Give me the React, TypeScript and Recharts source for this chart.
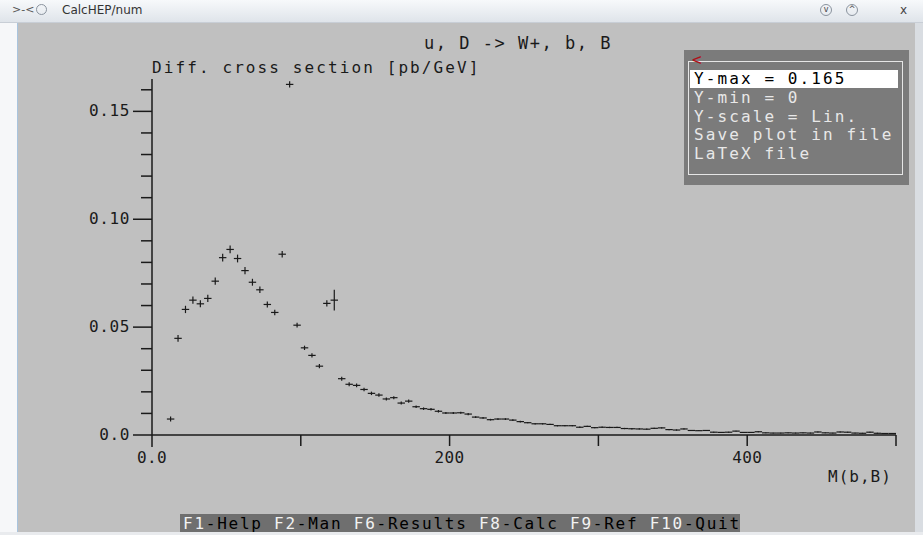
import React from 'react';
import { ScatterChart, Scatter, XAxis, YAxis, ErrorBar } from 'recharts';

// bin centres of M(b,B) [GeV], 5 GeV bins
const massBins = [
  12.5, 17.5, 22.5, 27.5, 32.5, 37.5, 42.5, 47.5, 52.5, 57.5,
  62.5, 67.5, 72.5, 77.5, 82.5, 87.5, 92.5, 97.5, 102.5, 107.5,
  112.5, 117.5, 122.5, 127.5, 132.5, 137.5, 142.5, 147.5, 152.5, 157.5,
  162.5, 167.5, 172.5, 177.5, 182.5, 187.5, 192.5, 197.5, 202.5, 207.5,
  212.5, 217.5, 222.5, 227.5, 232.5, 237.5, 242.5, 247.5, 252.5, 257.5,
  262.5, 267.5, 272.5, 277.5, 282.5, 287.5, 292.5, 297.5, 302.5, 307.5,
  312.5, 317.5, 322.5, 327.5, 332.5, 337.5, 342.5, 347.5, 352.5, 357.5,
  362.5, 367.5, 372.5, 377.5, 382.5, 387.5, 392.5, 397.5, 402.5, 407.5,
  412.5, 417.5, 422.5, 427.5, 432.5, 437.5, 442.5, 447.5, 452.5, 457.5,
  462.5, 467.5, 472.5, 477.5, 482.5, 487.5, 492.5, 497.5,
];

// dsigma/dM [pb/GeV]
const crossSection = [
  0.0074, 0.0448, 0.0582, 0.0625, 0.0608, 0.0633, 0.0713, 0.0822, 0.0860, 0.0818,
  0.0762, 0.0708, 0.0673, 0.0605, 0.0568, 0.0838, 0.1625, 0.0509, 0.0404, 0.0369,
  0.0319, 0.0610, 0.0625, 0.0261, 0.0235, 0.0230, 0.0211, 0.0193, 0.0185, 0.0167,
  0.0173, 0.0148, 0.0157, 0.0131, 0.0122, 0.0119, 0.0110, 0.0102, 0.0102, 0.0103,
  0.0097, 0.0083, 0.0079, 0.0071, 0.0074, 0.0074, 0.0069, 0.0062, 0.0057, 0.0052,
  0.0052, 0.0049, 0.0043, 0.0043, 0.0043, 0.0036, 0.0040, 0.0034, 0.0036, 0.0035,
  0.0035, 0.0030, 0.0029, 0.0028, 0.0027, 0.0031, 0.0033, 0.0025, 0.0023, 0.0028,
  0.0021, 0.0020, 0.0021, 0.0013, 0.0012, 0.0013, 0.0018, 0.0012, 0.0012, 0.0015,
  0.0010, 0.0009, 0.0009, 0.0010, 0.0009, 0.0010, 0.0009, 0.0014, 0.0010, 0.0009,
  0.0014, 0.0013, 0.0009, 0.0008, 0.0013, 0.0008, 0.0007, 0.0007,
];

// statistical error of each bin
const crossSectionErr = [
  0.0012, 0.0016, 0.0017, 0.0017, 0.0016, 0.0017, 0.0017, 0.0018, 0.0018, 0.0018,
  0.0017, 0.0016, 0.0015, 0.0014, 0.0013, 0.0015, 0.0014, 0.0011, 0.0010, 0.0010,
  0.0010, 0.0014, 0.0048, 0.0009, 0.0009, 0.0009, 0.0008, 0.0008, 0.0008, 0.0007,
  0.0007, 0.0007, 0.0007, 0.0006, 0.0006, 0.0006, 0.0006, 0.0005, 0.0005, 0.0005,
  0.0005, 0.0004, 0.0004, 0.0004, 0.0004, 0.0004, 0.0004, 0.0004, 0.0003, 0.0003,
  0.0003, 0.0003, 0.0003, 0.0003, 0.0003, 0.0003, 0.0003, 0.0003, 0.0003, 0.0003,
  0.0003, 0.0003, 0.0003, 0.0003, 0.0003, 0.0003, 0.0003, 0.0003, 0.0003, 0.0003,
  0.0002, 0.0002, 0.0002, 0.0002, 0.0002, 0.0002, 0.0002, 0.0002, 0.0002, 0.0002,
  0.0002, 0.0002, 0.0002, 0.0002, 0.0002, 0.0002, 0.0002, 0.0002, 0.0002, 0.0002,
  0.0002, 0.0002, 0.0002, 0.0002, 0.0002, 0.0002, 0.0002, 0.0002,
];

const binHalfWidth = 2.5;

const xTicks = [0, 100, 200, 300, 400, 500];
const xTickLabels = ['0.0', '', '200', '', '400', ''];
const yTicks = [0, 0.01, 0.02, 0.03, 0.04, 0.05, 0.06, 0.07, 0.08, 0.09, 0.1, 0.11, 0.12, 0.13, 0.14, 0.15, 0.16];
const yTickLabels = ['0.0', '', '', '', '', '0.05', '', '', '', '', '0.10', '', '', '', '', '0.15', ''];

const menuItems = ['Y-max = 0.165', 'Y-min = 0', 'Y-scale = Lin.', 'Save plot in file', 'LaTeX file'];
const fKeys = [
  ['F1', '-Help'], ['F2', '-Man'], ['F6', '-Results'], ['F8', '-Calc'], ['F9', '-Ref'], ['F10', '-Quit'],
];

const data = massBins.map((m, i) => ({
  m,
  y: crossSection[i],
  ex: binHalfWidth,
  ey: crossSectionErr[i],
}));

const MONO = '"DejaVu Sans Mono", "Liberation Mono", monospace';
const INK = '#1a1a1a';

const XTick = (props: any) => {
  const { x, y, index } = props;
  return (
    <g>
      <line x1={x} y1={y} x2={x} y2={y + (index === 0 ? 12 : 11)} stroke={INK} strokeWidth={1.5} />
      {xTickLabels[index] && (
        <text x={x} y={y + 28} textAnchor="middle" fontFamily={MONO} fontSize={16} fill={INK} letterSpacing={0.4}>
          {xTickLabels[index]}
        </text>
      )}
    </g>
  );
};

const YTick = (props: any) => {
  const { x, y, index } = props;
  const label = yTickLabels[index];
  return (
    <g>
      <line x1={x - (label ? 19 : 11)} y1={y} x2={x} y2={y} stroke={INK} strokeWidth={1.5} />
      {label && (
        <text x={x - 22} y={y + 5} textAnchor="end" fontFamily={MONO} fontSize={16} fill={INK} letterSpacing={0.6}>
          {label}
        </text>
      )}
    </g>
  );
};

const NoMark = () => <g />;

export default function App() {
  return (
    <div style={{ position: 'absolute', left: 0, top: 0, width: 923, height: 535, background: '#f6f7f9', overflow: 'hidden' }}>
      {/* window title bar */}
      <div style={{ position: 'absolute', left: 0, top: 0, width: 923, height: 22, background: 'linear-gradient(#f7f9fb, #dfe4ea)', borderBottom: '1px solid #c8ced6' }}>
        <span style={{ position: 'absolute', left: 12, top: 3, fontFamily: '"DejaVu Sans", sans-serif', fontSize: 11, color: '#555' }}>{'>-<'}</span>
        <span style={{ position: 'absolute', left: 36, top: 4, width: 11, height: 11, borderRadius: 6, border: '1px solid #8a939e', boxSizing: 'border-box' }} />
        <span style={{ position: 'absolute', left: 62, top: 3, fontFamily: '"DejaVu Sans", sans-serif', fontSize: 12, color: '#333' }}>CalcHEP/num</span>
        <span style={{ position: 'absolute', left: 820, top: 4, width: 12, height: 12, borderRadius: 6, border: '1px solid #8a939e', boxSizing: 'border-box', fontSize: 8, lineHeight: '10px', textAlign: 'center', color: '#444', fontFamily: '"DejaVu Sans", sans-serif' }}>v</span>
        <span style={{ position: 'absolute', left: 846, top: 4, width: 12, height: 12, borderRadius: 6, border: '1px solid #8a939e', boxSizing: 'border-box', fontSize: 8, lineHeight: '10px', textAlign: 'center', color: '#444', fontFamily: '"DejaVu Sans", sans-serif' }}>^</span>
        <span style={{ position: 'absolute', left: 900, top: 3, fontFamily: '"DejaVu Sans", sans-serif', fontSize: 12, color: '#444' }}>x</span>
      </div>

      {/* window body */}
      <div style={{ position: 'absolute', left: 17, top: 23, width: 898, height: 509, background: '#c0c0c0', borderLeft: '1px solid #a9c4de' }} />
      <div style={{ position: 'absolute', left: 915, top: 23, width: 8, height: 512, background: '#d9dde2' }} />

      <div style={{ position: 'absolute', left: 0, top: 33, width: 1036, textAlign: 'center', fontFamily: MONO, fontSize: 17, letterSpacing: 1.5, color: INK }}>
        u, D -&gt; W+, b, B
      </div>

      <div style={{ position: 'absolute', left: 0, top: 0 }}>
        <ScatterChart width={923} height={535} margin={{ top: 79, right: 27, bottom: 70, left: 92 }}>
          <XAxis
            type="number"
            dataKey="m"
            domain={[0, 500]}
            ticks={xTicks}
            allowDataOverflow
            height={30}
            tickSize={0}
            tickMargin={0}
            tickLine={false}
            axisLine={{ stroke: INK, strokeWidth: 1.5 }}
            tick={<XTick />}
            interval={0}
          />
          <YAxis
            type="number"
            dataKey="y"
            domain={[0, 0.165]}
            ticks={yTicks}
            allowDataOverflow
            width={60}
            tickSize={0}
            tickMargin={0}
            tickLine={false}
            axisLine={{ stroke: INK, strokeWidth: 1.5 }}
            tick={<YTick />}
            interval={0}
          />
          <Scatter data={data} shape={NoMark} isAnimationActive={false}>
            <ErrorBar dataKey="ex" direction="x" width={0} stroke={INK} strokeWidth={1.2} isAnimationActive={false} />
            <ErrorBar dataKey="ey" direction="y" width={0} stroke={INK} strokeWidth={1.2} isAnimationActive={false} />
          </Scatter>
        </ScatterChart>
      </div>

      <div style={{ position: 'absolute', left: 152, top: 58, fontFamily: MONO, fontSize: 16, letterSpacing: 2.1, color: INK, whiteSpace: 'pre' }}>
        Diff. cross section [pb/GeV]
      </div>
      <div style={{ position: 'absolute', left: 828, top: 467, fontFamily: MONO, fontSize: 16, letterSpacing: 1, color: INK }}>
        M(b,B)
      </div>

      {/* plot menu */}
      <div style={{ position: 'absolute', left: 684, top: 50, width: 225, height: 135, background: '#7b7b7b' }}>
        <div style={{ position: 'absolute', left: 4, top: 11, width: 215, height: 114, border: '1px solid #e6e6e6', boxSizing: 'border-box' }} />
        <span style={{ position: 'absolute', left: 8, top: 0, fontFamily: MONO, fontSize: 16, color: '#b0101a' }}>&lt;</span>
        <div style={{ position: 'absolute', left: 6, top: 20, width: 208, height: 18, background: '#ffffff' }} />
        {menuItems.map((t, i) => (
          <div
            key={t}
            style={{
              position: 'absolute', left: 10, top: 19 + i * 18.8, fontFamily: MONO, fontSize: 16, letterSpacing: 2.1,
              color: i === 0 ? '#000' : '#e8e8e8', whiteSpace: 'pre', lineHeight: '20px',
            }}
          >
            {t}
          </div>
        ))}
      </div>

      {/* function key bar */}
      <div style={{ position: 'absolute', left: 180, top: 514, width: 560, height: 19, background: '#6f6f6f', fontFamily: MONO, fontSize: 16, letterSpacing: 1.75, lineHeight: '19px', whiteSpace: 'pre', paddingLeft: 3, boxSizing: 'border-box' }}>
        {fKeys.map(([k, v], i) => (
          <span key={k}>
            <span style={{ color: '#f2f2f2' }}>{k}</span>
            <span style={{ color: '#000' }}>{v}</span>
            {i < fKeys.length - 1 ? ' ' : ''}
          </span>
        ))}
      </div>
      <div style={{ position: 'absolute', left: 0, top: 532, width: 923, height: 3, background: '#e9ebee' }} />
    </div>
  );
}
